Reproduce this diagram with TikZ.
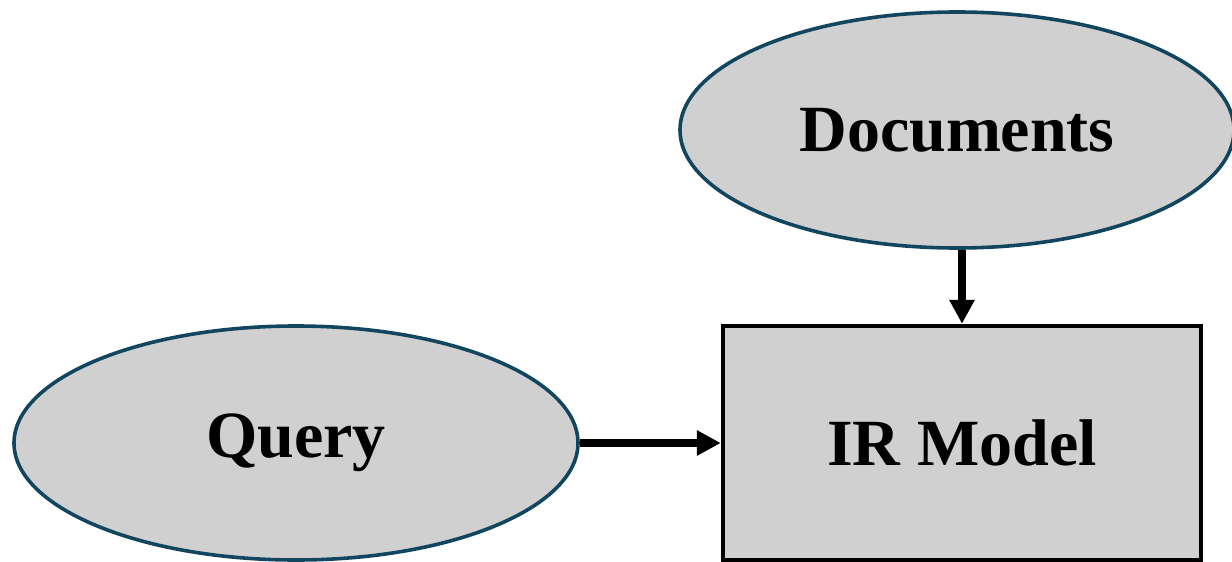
\documentclass[tikz,border=0pt]{standalone}
\usepackage{fontspec}
\setmainfont{Liberation Serif}
\usetikzlibrary{shapes.geometric,arrows.meta}
\definecolor{nodefill}{HTML}{D0D0D0}
\definecolor{ovaledge}{HTML}{12465F}
\begin{document}
\begin{tikzpicture}[x=0.5pt,y=-0.5pt,
  oval/.style={ellipse,draw=ovaledge,fill=nodefill,line width=1.8pt,inner sep=0pt},
  modelbox/.style={rectangle,draw=black,fill=nodefill,line width=2.2pt,inner sep=0pt},
  label/.style={font=\fontsize{33}{38}\selectfont\bfseries},
  flow/.style={line width=3.6pt,-{Triangle[length=12pt,width=12pt]}}]
\useasboundingbox (0,0) rectangle (1232,562);
\node[oval,minimum width=277pt,minimum height=118pt,label] (docs) at (957,130) {Documents};
\node[oval,minimum width=282pt,minimum height=117pt,label] (query) at (296,443) {Query};
\node[modelbox,minimum width=239pt,minimum height=117pt,label] (model) at (962,443) {IR Model};
\draw[flow] (model.north |- docs.south) -- (model.north);
\draw[flow] (query.east) -- (model.west);
\end{tikzpicture}
\end{document}
